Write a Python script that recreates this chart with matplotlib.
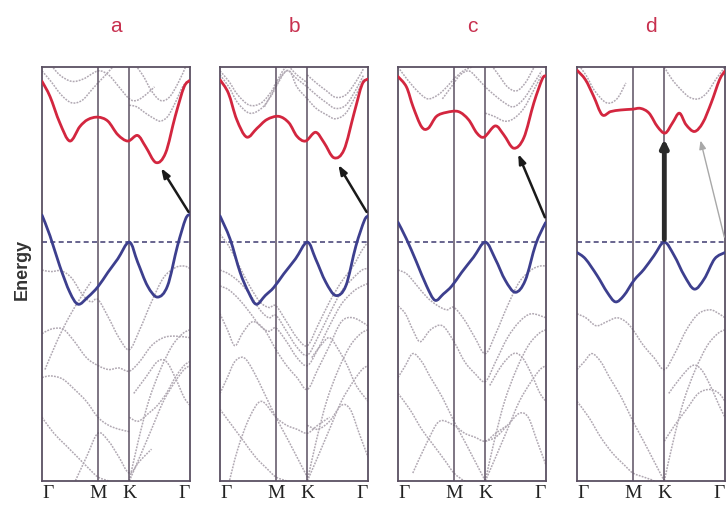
import matplotlib
matplotlib.use('Agg')
import matplotlib.pyplot as plt
from matplotlib.path import Path
from matplotlib.patches import PathPatch

# ---------------- data ----------------
panel_titles = ['a', 'b', 'c', 'd']
k_labels = ['Γ', 'M', 'K', 'Γ']
k_ticks = [0.0, 0.378, 0.59, 1.0]

# conduction band (red)
cb_k_a = [0, 0.054, 0.12, 0.188, 0.255, 0.31, 0.378, 0.445, 0.512, 0.58, 0.646, 0.70, 0.77, 0.835, 0.90, 0.96, 1.0]
cb_e_a = [2.02, 1.83, 1.50, 1.27, 1.45, 1.54, 1.57, 1.52, 1.35, 1.27, 1.34, 1.20, 1.00, 1.12, 1.58, 1.95, 2.03]
cb_k_b = [0, 0.057, 0.113, 0.18, 0.25, 0.317, 0.397, 0.465, 0.52, 0.578, 0.646, 0.703, 0.77, 0.838, 0.906, 0.96, 1.0]
cb_e_b = [2.04, 1.87, 1.54, 1.32, 1.43, 1.54, 1.58, 1.50, 1.33, 1.27, 1.38, 1.25, 1.06, 1.16, 1.62, 1.98, 2.05]
cb_k_c = [0, 0.057, 0.102, 0.159, 0.204, 0.26, 0.328, 0.408, 0.476, 0.533, 0.582, 0.657, 0.714, 0.782, 0.85, 0.918, 0.975, 1.0]
cb_e_c = [2.08, 1.95, 1.70, 1.45, 1.43, 1.58, 1.63, 1.64, 1.54, 1.37, 1.32, 1.46, 1.35, 1.18, 1.31, 1.75, 2.05, 2.09]
cb_k_d = [0, 0.057, 0.113, 0.17, 0.227, 0.295, 0.374, 0.43, 0.487, 0.544, 0.596, 0.646, 0.692, 0.737, 0.794, 0.85, 0.907, 0.963, 1.0]
cb_e_d = [2.16, 2.04, 1.83, 1.60, 1.64, 1.66, 1.67, 1.68, 1.62, 1.45, 1.37, 1.50, 1.62, 1.475, 1.39, 1.50, 1.75, 2.04, 2.15]

# valence band (blue)
vb_k_a = [0, 0.054, 0.12, 0.188, 0.244, 0.31, 0.378, 0.445, 0.512, 0.59, 0.646, 0.713, 0.78, 0.848, 0.915, 0.97, 1.0]
vb_e_a = [0.34, 0.08, -0.30, -0.63, -0.78, -0.69, -0.56, -0.38, -0.21, 0.0, -0.25, -0.55, -0.69, -0.55, -0.05, 0.29, 0.35]
vb_k_b = [0, 0.068, 0.136, 0.193, 0.245, 0.306, 0.363, 0.43, 0.51, 0.59, 0.646, 0.714, 0.782, 0.85, 0.918, 0.975, 1.0]
vb_e_b = [0.33, 0.04, -0.38, -0.63, -0.78, -0.67, -0.57, -0.40, -0.21, 0.0, -0.21, -0.50, -0.67, -0.55, -0.05, 0.27, 0.33]
vb_k_c = [0, 0.057, 0.125, 0.193, 0.25, 0.307, 0.364, 0.43, 0.51, 0.59, 0.657, 0.725, 0.793, 0.86, 0.93, 0.99, 1.0]
vb_e_c = [0.25, 0.04, -0.25, -0.55, -0.73, -0.65, -0.55, -0.38, -0.19, 0.0, -0.21, -0.48, -0.63, -0.48, -0.03, 0.22, 0.24]
vb_k_d = [0, 0.057, 0.136, 0.204, 0.26, 0.317, 0.385, 0.453, 0.52, 0.59, 0.657, 0.725, 0.793, 0.86, 0.93, 1.0]
vb_e_d = [-0.13, -0.21, -0.42, -0.63, -0.75, -0.67, -0.48, -0.34, -0.17, 0.0, -0.17, -0.42, -0.59, -0.46, -0.21, -0.13]

# other bands (grey, dotted)
gray_a = [
    ([0, 0.06, 0.13, 0.2, 0.27, 0.33, 0.378, 0.44, 0.5], [2.15, 2.02, 1.85, 1.75, 1.78, 1.9, 2.0, 2.12, 2.25]),
    ([0.05, 0.12, 0.2, 0.28, 0.378, 0.45, 0.52, 0.59, 0.64, 0.7, 0.76], [2.25, 2.1, 2.02, 2.05, 2.15, 2.1, 1.95, 1.8, 1.78, 1.85, 1.95]),
    ([0.59, 0.64, 0.7, 0.76, 0.8, 0.85, 0.9, 0.95, 1.0], [1.72, 1.7, 1.62, 1.55, 1.52, 1.58, 1.75, 1.95, 2.05]),
    ([0.62, 0.68, 0.74, 0.8, 0.86, 0.92, 0.97], [2.25, 2.1, 1.9, 1.78, 1.82, 2.0, 2.2]),
    ([0, 0.06, 0.13, 0.2, 0.27, 0.33, 0.378, 0.45, 0.52, 0.59, 0.66, 0.74, 0.82, 0.9, 0.96, 1.0],
     [-0.35, -0.37, -0.36, -0.45, -0.65, -0.75, -0.72, -0.95, -1.2, -1.35, -1.1, -0.75, -0.45, -0.32, -0.3, -0.33]),
    ([0, 0.05, 0.1, 0.15, 0.22, 0.3, 0.378, 0.45, 0.52, 0.59, 0.66, 0.74, 0.82, 0.9, 1.0],
     [-1.15, -1.1, -1.08, -1.1, -1.25, -1.45, -1.55, -1.6, -1.58, -1.62, -1.5, -1.3, -1.2, -1.18, -1.2]),
    ([0.02, 0.1, 0.18, 0.26, 0.33], [-1.6, -1.25, -0.95, -0.7, -0.5]),
    ([0, 0.06, 0.14, 0.22, 0.3, 0.378, 0.45, 0.52, 0.59], [-1.7, -1.68, -1.72, -1.85, -2.0, -2.2, -2.3, -2.35, -2.38]),
    ([0, 0.08, 0.16, 0.24, 0.32, 0.378, 0.45, 0.52, 0.59], [-2.2, -2.4, -2.55, -2.7, -2.85, -2.95, -3.0, -3.05, -3.1]),
    ([0.59, 0.65, 0.72, 0.8, 0.88, 0.95, 1.0], [-3.0, -2.5, -2.0, -1.6, -1.3, -1.15, -1.1]),
    ([0.59, 0.66, 0.74, 0.82, 0.9, 0.96, 1.0], [-3.0, -2.7, -2.35, -2.0, -1.75, -1.6, -1.55]),
    ([0.59, 0.65, 0.72, 0.78, 0.84, 0.9, 0.96, 1.0], [-2.2, -2.25, -2.15, -2.05, -1.9, -1.7, -1.55, -1.5]),
    ([0.62, 0.7, 0.78, 0.84, 0.9, 0.96, 1.0], [-1.9, -1.7, -1.5, -1.5, -1.7, -1.95, -2.05]),
    ([0.2, 0.3, 0.378, 0.45, 0.52, 0.59, 0.66, 0.74], [-3.1, -2.7, -2.4, -2.5, -2.7, -2.9, -2.75, -2.6]),
]
gray_b = [
    ([0, 0.06, 0.12, 0.2, 0.28, 0.35, 0.378, 0.45, 0.52, 0.59], [2.1, 1.95, 1.75, 1.62, 1.68, 1.85, 1.95, 2.15, 2.05, 1.95]),
    ([0, 0.06, 0.12, 0.2, 0.28, 0.35, 0.378, 0.45, 0.52, 0.59], [2.15, 2.02, 1.85, 1.72, 1.75, 1.9, 2.0, 2.2, 2.1, 2.0]),
    ([0.3, 0.36, 0.42, 0.47, 0.52, 0.59, 0.65, 0.72, 0.78, 0.85, 0.92, 0.97], [1.7, 1.9, 2.1, 2.15, 1.95, 1.8, 1.68, 1.6, 1.55, 1.62, 1.85, 2.05]),
    ([0.59, 0.65, 0.72, 0.78, 0.85, 0.92, 0.97], [1.95, 1.85, 1.75, 1.68, 1.72, 1.92, 2.1]),
    ([0.59, 0.65, 0.72, 0.78, 0.85, 0.92, 0.97], [2.1, 2.0, 1.9, 1.82, 1.85, 2.02, 2.18]),
    ([0, 0.06, 0.13, 0.2, 0.27, 0.33, 0.378, 0.45, 0.52, 0.59, 0.66, 0.74, 0.82, 0.9, 0.96, 1.0],
     [0.1, -0.05, -0.3, -0.55, -0.75, -0.82, -0.8, -1.0, -1.2, -1.3, -1.05, -0.75, -0.5, -0.3, -0.1, 0.0]),
    ([0, 0.06, 0.13, 0.2, 0.27, 0.33, 0.378, 0.45, 0.52, 0.59, 0.66, 0.74, 0.82, 0.9, 0.96, 1.0],
     [-0.35, -0.4, -0.5, -0.65, -0.85, -0.95, -0.92, -1.12, -1.32, -1.42, -1.2, -0.9, -0.62, -0.45, -0.35, -0.33]),
    ([0, 0.06, 0.13, 0.2, 0.27, 0.33, 0.378, 0.45, 0.52, 0.59, 0.66, 0.74, 0.82, 0.9, 0.96, 1.0],
     [-0.55, -0.6, -0.72, -0.88, -1.05, -1.12, -1.08, -1.25, -1.45, -1.55, -1.35, -1.05, -0.78, -0.62, -0.55, -0.52]),
    ([0, 0.05, 0.1, 0.15, 0.22, 0.3, 0.378, 0.45, 0.52, 0.59, 0.66, 0.74, 0.82, 0.9, 1.0],
     [-0.9, -1.1, -1.3, -1.15, -1.0, -1.1, -1.35, -1.55, -1.7, -1.85, -1.6, -1.3, -1.0, -0.95, -1.05]),
    ([0, 0.05, 0.1, 0.16, 0.22, 0.3, 0.378, 0.45, 0.52, 0.59], [-1.9, -1.7, -1.5, -1.45, -1.6, -1.9, -2.2, -2.45, -2.7, -2.95]),
    ([0, 0.08, 0.16, 0.24, 0.32, 0.378, 0.45, 0.52, 0.59], [-2.1, -2.3, -2.5, -2.7, -2.85, -2.95, -3.0, -3.05, -3.1]),
    ([0.05, 0.12, 0.2, 0.28, 0.378, 0.45, 0.52, 0.59, 0.66, 0.74], [-3.1, -2.6, -2.2, -2.0, -2.2, -2.3, -2.35, -2.4, -2.3, -2.2]),
    ([0.59, 0.65, 0.72, 0.8, 0.88, 0.95, 1.0], [-3.0, -2.5, -2.0, -1.6, -1.3, -1.15, -1.1]),
    ([0.59, 0.66, 0.74, 0.82, 0.9, 0.96, 1.0], [-3.0, -2.7, -2.35, -2.0, -1.75, -1.6, -1.55]),
    ([0.62, 0.68, 0.74, 0.8, 0.86, 0.92, 1.0], [-1.45, -1.3, -1.2, -1.35, -1.55, -1.8, -2.0]),
    ([0.59, 0.66, 0.74, 0.82, 0.88, 0.94, 1.0], [-2.3, -2.35, -2.25, -2.05, -2.1, -2.4, -2.7]),
]
gray_c = [
    ([0, 0.06, 0.13, 0.2, 0.27, 0.33, 0.378, 0.44, 0.5], [2.2, 2.05, 1.9, 1.8, 1.85, 1.95, 2.05, 2.15, 2.2]),
    ([0.3, 0.36, 0.42, 0.48, 0.54, 0.59, 0.65, 0.72, 0.78, 0.85, 0.92, 0.97], [1.8, 1.95, 2.1, 2.15, 2.05, 1.95, 1.85, 1.75, 1.7, 1.8, 2.0, 2.15]),
    ([0.59, 0.65, 0.72, 0.78, 0.85, 0.92, 0.97], [1.62, 1.58, 1.52, 1.55, 1.68, 1.92, 2.1]),
    ([0.62, 0.68, 0.74, 0.8, 0.86, 0.92], [2.25, 2.1, 1.95, 1.9, 2.0, 2.2]),
    ([0, 0.06, 0.13, 0.2, 0.27, 0.33, 0.378, 0.45, 0.52, 0.59, 0.66, 0.74, 0.82, 0.9, 0.96, 1.0],
     [-0.35, -0.4, -0.55, -0.7, -0.8, -0.85, -0.82, -0.98, -1.2, -1.4, -1.15, -0.8, -0.5, -0.35, -0.3, -0.3]),
    ([0, 0.05, 0.1, 0.15, 0.22, 0.3, 0.378, 0.45, 0.52, 0.59, 0.66, 0.74, 0.82, 0.9, 1.0],
     [-0.8, -0.9, -1.1, -1.25, -1.1, -1.05, -1.25, -1.5, -1.65, -1.75, -1.5, -1.2, -1.0, -0.9, -0.95]),
    ([0, 0.05, 0.1, 0.16, 0.22, 0.3, 0.378, 0.45, 0.52, 0.59], [-1.7, -1.55, -1.4, -1.5, -1.7, -1.95, -2.25, -2.5, -2.75, -3.0]),
    ([0, 0.08, 0.16, 0.24, 0.32, 0.378, 0.45, 0.52, 0.59], [-1.9, -2.1, -2.35, -2.55, -2.75, -2.9, -3.0, -3.05, -3.1]),
    ([0.1, 0.2, 0.28, 0.378, 0.45, 0.52, 0.59, 0.66, 0.74], [-2.9, -2.5, -2.25, -2.3, -2.4, -2.45, -2.5, -2.4, -2.3]),
    ([0.59, 0.65, 0.72, 0.8, 0.88, 0.95, 1.0], [-3.0, -2.5, -2.0, -1.6, -1.3, -1.15, -1.1]),
    ([0.59, 0.66, 0.74, 0.82, 0.9, 0.96, 1.0], [-3.0, -2.7, -2.35, -2.0, -1.75, -1.6, -1.55]),
    ([0.62, 0.7, 0.78, 0.84, 0.9, 0.96, 1.0], [-1.8, -1.55, -1.4, -1.45, -1.65, -1.9, -2.0]),
    ([0.59, 0.66, 0.74, 0.82, 0.88, 0.94, 1.0], [-2.5, -2.45, -2.3, -2.15, -2.2, -2.5, -2.8]),
]
gray_d = [
    ([0, 0.06, 0.12, 0.2, 0.27, 0.33], [2.25, 2.1, 1.9, 1.75, 1.8, 2.0]),
    ([0.59, 0.64, 0.7, 0.76, 0.82, 0.88, 0.94, 1.0], [2.2, 2.05, 1.92, 1.82, 1.8, 1.88, 2.05, 2.2]),
    ([0, 0.06, 0.13, 0.2, 0.27, 0.33, 0.378, 0.45, 0.52, 0.59, 0.66, 0.74, 0.82, 0.9, 0.96, 1.0],
     [-0.9, -0.95, -1.05, -1.0, -0.95, -1.0, -1.1, -1.3, -1.45, -1.6, -1.4, -1.1, -0.9, -0.85, -0.9, -0.95]),
    ([0, 0.05, 0.1, 0.16, 0.22, 0.3, 0.378, 0.45, 0.52, 0.59], [-1.6, -1.5, -1.4, -1.5, -1.7, -1.95, -2.25, -2.5, -2.75, -3.0]),
    ([0, 0.08, 0.16, 0.24, 0.32, 0.378, 0.45, 0.52, 0.59], [-2.0, -2.2, -2.45, -2.65, -2.8, -2.9, -2.95, -3.0, -3.1]),
    ([0.59, 0.65, 0.72, 0.8, 0.88, 0.95, 1.0], [-3.0, -2.5, -2.0, -1.6, -1.3, -1.15, -1.1]),
    ([0.59, 0.66, 0.74, 0.82, 0.9, 0.96, 1.0], [-2.5, -2.3, -2.1, -1.9, -1.85, -1.9, -2.0]),
    ([0.62, 0.7, 0.78, 0.84, 0.9, 0.96, 1.0], [-1.9, -1.7, -1.55, -1.6, -1.8, -2.05, -2.2]),
]

# arrows: (k_start, e_start, k_end, e_end)
arrows_main = [(1.0, 0.35, 0.795, 0.96), (1.0, 0.35, 0.79, 1.00), (1.0, 0.28, 0.805, 1.14), (0.59, 0.0, 0.59, 1.33)]
arrow_d_extra = (1.0, 0.03, 0.83, 1.31)


# ---------------- drawing ----------------
def smooth_curve(ax, kk, ee, **kw):
    """Draw a smooth (Catmull-Rom as cubic Bezier) curve through the read points."""
    n = len(kk)
    verts = [(kk[0], ee[0])]
    codes = [Path.MOVETO]
    for j in range(n - 1):
        k0, e0 = (kk[j - 1], ee[j - 1]) if j > 0 else (kk[j], ee[j])
        k1, e1 = kk[j], ee[j]
        k2, e2 = kk[j + 1], ee[j + 1]
        k3, e3 = (kk[j + 2], ee[j + 2]) if j + 2 < n else (kk[j + 1], ee[j + 1])
        c1 = (k1 + (k2 - k0) / 6.0, e1 + (e2 - e0) / 6.0)
        c2 = (k2 - (k3 - k1) / 6.0, e2 - (e3 - e1) / 6.0)
        verts += [c1, c2, (k2, e2)]
        codes += [Path.CURVE4] * 3
    patch = PathPatch(Path(verts, codes), facecolor='none', **kw)
    ax.add_patch(patch)
    return patch


fig = plt.figure(figsize=(7.28, 5.08), dpi=100)
fig.patch.set_facecolor('white')

frame_col = '#5b5062'
red = '#d3263f'
blue = '#3d3f8e'
grey = '#b0a8b2'
title_col = '#c8304f'

lefts = [42, 220, 398, 577]
W, H = 728.0, 508.0
cbs = [(cb_k_a, cb_e_a), (cb_k_b, cb_e_b), (cb_k_c, cb_e_c), (cb_k_d, cb_e_d)]
vbs = [(vb_k_a, vb_e_a), (vb_k_b, vb_e_b), (vb_k_c, vb_e_c), (vb_k_d, vb_e_d)]
grays = [gray_a, gray_b, gray_c, gray_d]

for i in range(4):
    ax = fig.add_axes([lefts[i] / W, 27 / H, 148 / W, 414 / H])
    ax.set_xlim(0, 1)
    ax.set_ylim(-3.0, 2.2)
    for kk, ee in grays[i]:
        smooth_curve(ax, kk, ee, edgecolor=grey, lw=1.1, ls=(0, (1.2, 0.8)), zorder=1)
    ax.axvline(k_ticks[1], color=frame_col, lw=1.1, zorder=2)
    ax.axvline(k_ticks[2], color=frame_col, lw=1.1, zorder=2)
    ax.axhline(0, color='#4e4a7c', lw=1.2, ls=(0, (3, 2)), zorder=2)
    smooth_curve(ax, *cbs[i], edgecolor=red, lw=2.0, capstyle='round', joinstyle='round', zorder=4)
    smooth_curve(ax, *vbs[i], edgecolor=blue, lw=2.0, capstyle='round', joinstyle='round', zorder=4)
    ks, es, ke, ee2 = arrows_main[i]
    if i < 3:
        ax.annotate('', xy=(ke, ee2), xytext=(ks, es),
                    arrowprops=dict(arrowstyle='-|>,head_length=0.55,head_width=0.2', color='#1a1a1a', lw=1.8),
                    zorder=5, annotation_clip=False)
    else:
        ax.annotate('', xy=(ke, ee2), xytext=(ks, es),
                    arrowprops=dict(arrowstyle='-|>,head_length=0.45,head_width=0.22', color='#2a2a2a', lw=3.5),
                    zorder=5)
        kx, ex, kx2, ex2 = arrow_d_extra
        ax.annotate('', xy=(kx2, ex2), xytext=(kx, ex),
                    arrowprops=dict(arrowstyle='-|>,head_length=0.5,head_width=0.2', color='#a8a8a8', lw=1.0),
                    zorder=5, annotation_clip=False)
    for s in ax.spines.values():
        s.set_color(frame_col)
        s.set_linewidth(1.3)
    ax.set_yticks([])
    ax.set_xticks(k_ticks)
    ax.set_xticklabels(k_labels, family=['Liberation Serif', 'DejaVu Serif'], fontsize=14, color='#222222')
    labs = ax.get_xticklabels()
    labs[0].set_ha('left')
    labs[3].set_ha('right')
    ax.tick_params(axis='x', length=0, pad=3)
    ax.set_title(panel_titles[i], color=title_col, fontsize=15, pad=25,
                 family=['Liberation Sans Narrow', 'Liberation Sans', 'DejaVu Sans'])
    if i == 0:
        ax.set_ylabel('Energy', fontsize=13, fontweight='bold', color='#333333',
                      family=['Liberation Sans Narrow', 'Liberation Sans', 'DejaVu Sans'])
        ax.yaxis.set_label_coords(-0.075, 0.51)

fig.savefig('out.png', dpi=100, facecolor='white')
